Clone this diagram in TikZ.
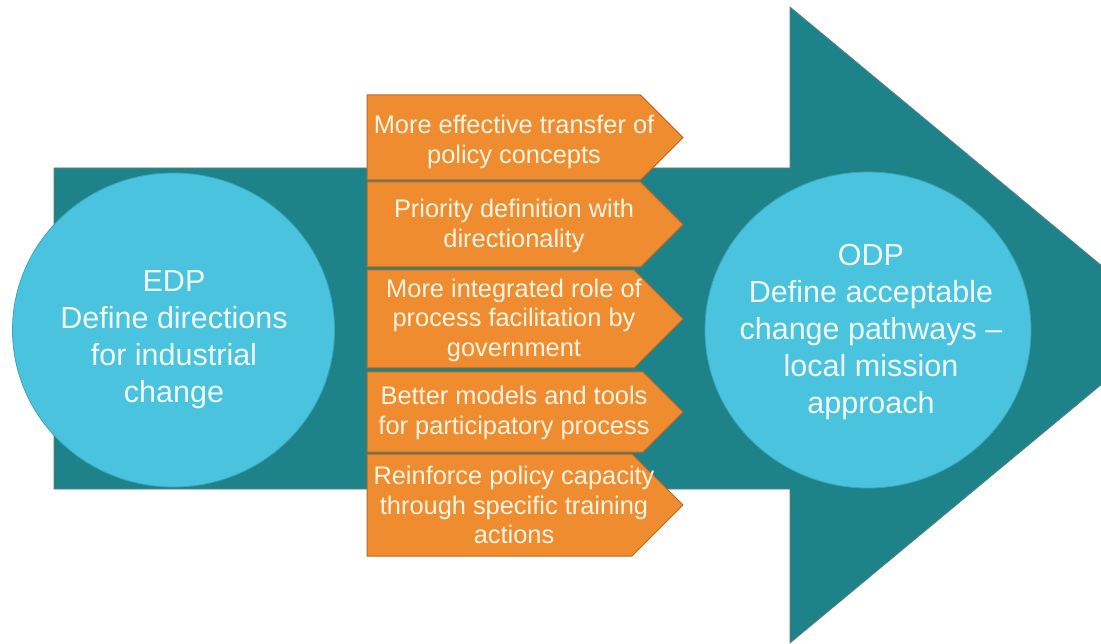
\documentclass[tikz,border=0pt]{standalone}
\usepackage{fontspec}
\setmainfont{Liberation Sans}
\definecolor{teal}{HTML}{1E8388}
\definecolor{tealedge}{HTML}{5E7F86}
\definecolor{lightblue}{HTML}{4AC3DE}
\definecolor{blueedge}{HTML}{3AA6BE}
\definecolor{orangefill}{HTML}{EE8C2F}
\definecolor{orangeedge}{HTML}{B8682A}
\definecolor{cream}{HTML}{FFF5E4}
\definecolor{paleblue}{HTML}{F0FAFC}
\tikzset{
  bigarrow/.style={fill=teal, draw=tealedge, line width=0.8pt},
  bubble/.style={fill=lightblue, draw=blueedge, line width=0.8pt},
  chevron/.style={fill=orangefill, draw=orangeedge, line width=1pt},
  chevtext/.style={text=cream, align=center, font=\fontsize{25.4}{29.5}\selectfont, inner sep=0pt},
  bubbletext/.style={text=paleblue, align=center, font=\fontsize{30.5}{37}\selectfont, inner sep=0pt},
}
\begin{document}
\begin{tikzpicture}[x=1pt,y=-1pt]
\useasboundingbox (0,0) rectangle (1101,644);
\clip (0,0) rectangle (1101,644);
\fill[white] (0,0) rectangle (1101,644);
% big arrow
\draw[bigarrow] (54,168) -- (790,168) -- (790,7) -- (1173,325) -- (790,643) -- (790,489) -- (54,489) -- cycle;
% bubbles
\draw[bubble] (173.5,330) ellipse [x radius=161, y radius=157];
\draw[bubble] (868,330) ellipse [x radius=163, y radius=158];
\node[bubbletext] (edp) at (174,340) {EDP\\Define directions\\for industrial\\change};
\node[bubbletext] (odp) at (871,332) {ODP\\Define acceptable\\change pathways –\\local mission\\approach};
% chevrons
\draw[chevron] (367,95) -- (640.5,95) -- (683,137.5) -- (640.5,180) -- (367,180) -- cycle;
\draw[chevron] (367,182) -- (640.5,182) -- (683,224.5) -- (640.5,267) -- (367,267) -- cycle;
\draw[chevron] (367,270) -- (634,270) -- (683,319) -- (634,368) -- (367,368) -- cycle;
\draw[chevron] (367,372) -- (643,372) -- (683,412) -- (643,452) -- (367,452) -- cycle;
\draw[chevron] (367,454) -- (632,454) -- (683,505) -- (632,556) -- (367,556) -- cycle;
\node[chevtext] (c1) at (514,142) {More effective transfer of\\policy concepts};
\node[chevtext] (c2) at (514,226) {Priority definition with\\directionality};
\node[chevtext] (c3) at (514,320) {More integrated role of\\process facilitation by\\government};
\node[chevtext] (c4) at (514,413) {Better models and tools\\for participatory process};
\node[chevtext] (c5) at (514,505) {Reinforce policy capacity\\through specific training\\actions};
\end{tikzpicture}
\end{document}
